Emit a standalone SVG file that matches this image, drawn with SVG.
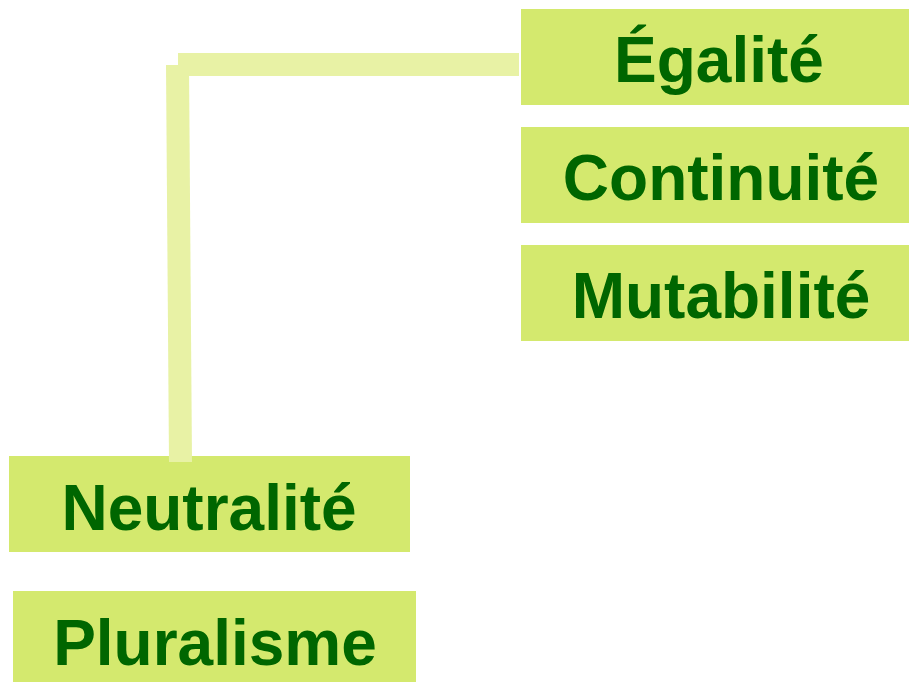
<svg xmlns="http://www.w3.org/2000/svg" width="909" height="682" viewBox="0 0 909 682">
<style>
.box{fill:#D4E96E;}
.lbl{font-family:"Liberation Sans",Arial,sans-serif;font-weight:bold;font-size:64px;fill:#006600;text-anchor:middle;}
.bar{fill:#E8F2A5;}
</style>
<rect width="909" height="682" fill="#FFFFFF"/>
<g id="egalite"><rect class="box" x="521" y="9" width="400" height="96"/><text class="lbl" x="719" y="82">Égalité</text></g>
<g id="continuite"><rect class="box" x="521" y="127" width="400" height="96"/><text class="lbl" x="721" y="200">Continuité</text></g>
<g id="mutabilite"><rect class="box" x="521" y="245" width="400" height="96"/><text class="lbl" x="721" y="318">Mutabilité</text></g>
<g id="neutralite"><rect class="box" x="9" y="456" width="401" height="96"/><text class="lbl" x="209" y="530">Neutralité</text></g>
<g id="pluralisme"><rect class="box" x="13" y="591" width="403" height="96"/><text class="lbl" x="215" y="665">Pluralisme</text></g>
<g id="connectors">
<polygon class="bar" points="166,65 189,65 192,462 169,462"/>
<rect class="bar" x="178" y="53" width="341" height="23"/>
</g>
</svg>
